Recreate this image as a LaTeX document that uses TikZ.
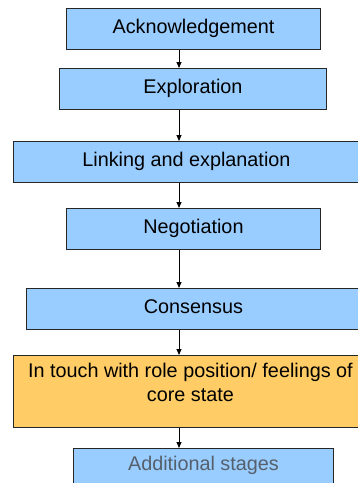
\documentclass[tikz,border=0pt]{standalone}
\usepackage{fontspec}
\setmainfont{Liberation Sans}
\usetikzlibrary{arrows.meta}
\definecolor{stageblue}{HTML}{99CCFF}
\definecolor{stageorange}{HTML}{FFCC66}
\definecolor{fadedtext}{HTML}{56606C}
\begin{document}
\begin{tikzpicture}[x=1pt,y=-1pt,
  stagebox/.style={draw=black!85, line width=0.9pt, fill=stageblue,
    inner sep=0pt, anchor=north west, minimum height=41pt,
    font=\fontsize{19.8}{24.5}\selectfont, text height=14pt, text depth=4pt},
  corebox/.style={stagebox, fill=stageorange, minimum height=72pt, align=center},
  flow/.style={draw=black, line width=0.8pt, -{Triangle[length=6pt,width=5pt]}}]
  \useasboundingbox (0,0) rectangle (358,483);
  \clip (0,0) rectangle (358,483);
  \fill[white] (0,0) rectangle (358,483);
  \coordinate (axis) at (179,0);
  % the chain of stages, top to bottom
  \node[stagebox, minimum width=254pt] (ack) at (66,8) {Acknowledgement};
  \node[stagebox, minimum width=267pt] (expl) at (59,68) {Exploration};
  \node[stagebox, minimum width=346pt] (link) at (13,141) {Linking and explanation};
  \node[stagebox, minimum width=254pt] (nego) at (66,208) {Negotiation};
  \node[stagebox, minimum width=334pt] (cons) at (26,288) {Consensus};
  \node[corebox, minimum width=354pt, text height=38.5pt, text depth=18pt] (core) at (13,355)
    {In touch with role position/ feelings of\\core state};
  \node[stagebox, minimum width=260pt, minimum height=60pt, text depth=30pt,
    text=fadedtext] (more) at (73,448) {Additional stages};
  % connectors down the common axis
  \draw[flow] (ack.south -| axis) -- (expl.north -| axis);
  \draw[flow] (expl.south -| axis) -- (link.north -| axis);
  \draw[flow] (link.south -| axis) -- (nego.north -| axis);
  \draw[flow] (nego.south -| axis) -- (cons.north -| axis);
  \draw[flow] (cons.south -| axis) -- (core.north -| axis);
  \draw[flow] (core.south -| axis) -- (more.north -| axis);
\end{tikzpicture}
\end{document}
